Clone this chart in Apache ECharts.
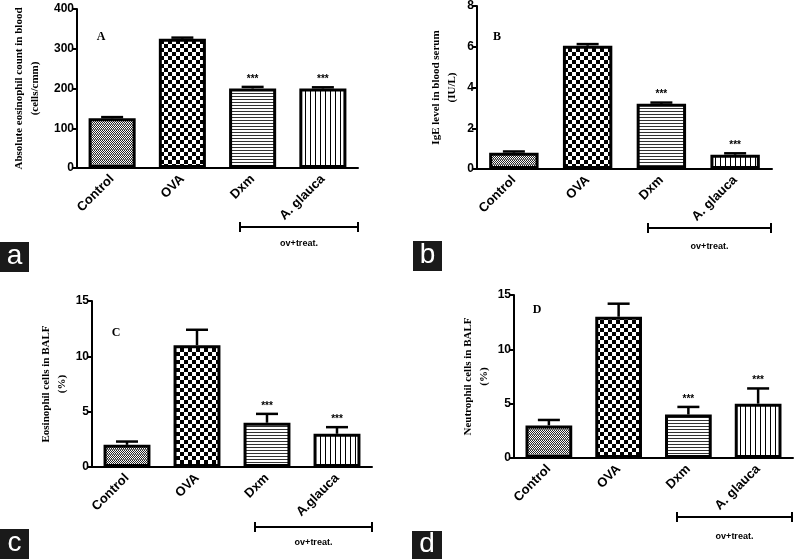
<!DOCTYPE html>
<html>
<head>
<meta charset="utf-8">
<script src="https://cdn.jsdelivr.net/npm/echarts@6/dist/echarts.min.js"></script>
<style>
html,body{margin:0;padding:0;background:#fff;}
#chart{width:795px;height:559px;}
</style>
</head>
<body>
<div id="chart"></div>
<script>
// ---- data ----
const categoriesAB = ['Control', 'OVA', 'Dxm', 'A. glauca'];
const categoriesC = ['Control', 'OVA', 'Dxm', 'A.glauca'];
const categoriesD = ['Control', 'OVA', 'Dxm', 'A. glauca'];
const valuesA = [125, 325, 200, 200];
const errorsA = [3, 3, 4, 3];
const valuesB = [0.8, 6.05, 3.2, 0.7];
const errorsB = [0.06, 0.08, 0.06, 0.07];
const valuesC = [2.0, 11.0, 4.0, 3.0];
const errorsC = [0.3, 1.4, 0.8, 0.6];
const valuesD = [3.0, 13.0, 4.0, 5.0];
const errorsD = [0.5, 1.2, 0.7, 1.4];
const significance = ['', '', '***', '***'];
const yTitleA = 'Absolute eosinophil count in blood\n(cells/cmm)';
const yTitleB = 'IgE level in blood serum\n(IU/L)';
const yTitleC = 'Eosinophil cells in BALF\n(%)';
const yTitleD = 'Neutrophil cells in BALF\n(%)';
const yMaxA = 400, yStepA = 100;
const yMaxB = 8, yStepB = 2;
const yMaxC = 15, yStepC = 5;
const yMaxD = 15, yStepD = 5;
const panelTitles = ['A', 'B', 'C', 'D'];
const panelTags = ['a', 'b', 'c', 'd'];
const bracketText = 'ov+treat.';

// ---- patterns ----
function makePattern(w, h, draw) {
  const c = document.createElement('canvas');
  c.width = w; c.height = h;
  const ctx = c.getContext('2d');
  ctx.fillStyle = '#fff'; ctx.fillRect(0, 0, w, h);
  ctx.fillStyle = '#000';
  draw(ctx);
  return { image: c, repeat: 'repeat' };
}
const patControl = makePattern(4, 5, ctx => {
  ctx.fillStyle = '#222';
  ctx.fillRect(0, 0, 1, 1); ctx.fillRect(2, 0, 1, 1);
  ctx.fillRect(1, 1, 1, 1); ctx.fillRect(3, 1, 1, 1);
  ctx.fillRect(0, 2, 1, 1); ctx.fillRect(2, 2, 1, 1);
  ctx.fillRect(1, 3, 1, 1); ctx.fillRect(3, 3, 1, 1);
  ctx.fillStyle = '#777';
  ctx.fillRect(0, 4, 4, 1);
});
const patOVA = makePattern(8, 8, ctx => {
  ctx.fillRect(0, 0, 4, 4); ctx.fillRect(4, 4, 4, 4);
});
const patDxm = makePattern(4, 3, ctx => {
  ctx.fillStyle = '#333';
  ctx.fillRect(0, 0, 4, 1);
});
const patGlauca = makePattern(5, 4, ctx => {
  ctx.fillRect(0, 0, 1, 4);
});
const patterns = [patControl, patOVA, patDxm, patGlauca];

// ---- layout ----
const grids = [
  { left: 77, top: 9, width: 281, height: 159 },
  { left: 477, top: 5, width: 295, height: 164 },
  { left: 92, top: 301, width: 280, height: 166 },
  { left: 514, top: 295, width: 279, height: 163 }
];
const panels = [
  { cats: categoriesAB, vals: valuesA, errs: errorsA, title: yTitleA, max: yMaxA, step: yStepA, gap: 34 },
  { cats: categoriesAB, vals: valuesB, errs: errorsB, title: yTitleB, max: yMaxB, step: yStepB, gap: 17 },
  { cats: categoriesC, vals: valuesC, errs: errorsC, title: yTitleC, max: yMaxC, step: yStepC, gap: 22 },
  { cats: categoriesD, vals: valuesD, errs: errorsD, title: yTitleD, max: yMaxD, step: yStepD, gap: 22 }
];

const xAxes = [], yAxes = [], series = [];
panels.forEach((p, i) => {
  xAxes.push({
    type: 'category', gridIndex: i, data: p.cats,
    axisLine: { lineStyle: { color: '#000', width: 2 } },
    axisTick: { alignWithLabel: true, length: 5, lineStyle: { color: '#000', width: 1.5 } },
    axisLabel: { rotate: 45, color: '#000', fontFamily: 'Arial, Liberation Sans', fontWeight: 'bold', fontSize: 13, margin: 9, interval: 0 }
  });
  yAxes.push({
    type: 'value', gridIndex: i, min: 0, max: p.max, interval: p.step,
    name: p.title, nameLocation: 'middle', nameRotate: 90, nameGap: p.gap,
    nameTextStyle: { fontFamily: 'Liberation Serif, Times New Roman, serif', fontWeight: 'bold', fontSize: 11, lineHeight: 16, color: '#000' },
    axisLine: { show: true, lineStyle: { color: '#000', width: 2 } },
    axisTick: { show: true, length: 5, lineStyle: { color: '#000', width: 2 } },
    axisLabel: { color: '#000', fontFamily: 'Arial, Liberation Sans', fontWeight: 'bold', fontSize: 12, margin: 3 },
    splitLine: { show: false }
  });
  series.push({
    type: 'bar', xAxisIndex: i, yAxisIndex: i, barWidth: '67%',
    data: p.vals.map((v, k) => ({ value: v, itemStyle: { color: patterns[k] } })),
    itemStyle: { borderColor: '#000', borderWidth: 3 },
    silent: true, animation: false
  });
  series.push({
    type: 'custom', xAxisIndex: i, yAxisIndex: i, z: 5,
    data: p.vals.map((v, k) => [k, v, p.errs[k]]),
    renderItem: function (params, api) {
      const k = api.value(0), v = api.value(1), e = api.value(2);
      const p0 = api.coord([k, v]);
      const p1 = api.coord([k, v + e]);
      const hw = 11;
      const children = [
        { type: 'line', shape: { x1: p0[0], y1: p0[1], x2: p1[0], y2: p1[1] }, style: { stroke: '#000', lineWidth: 2.5 } },
        { type: 'line', shape: { x1: p1[0] - hw, y1: p1[1], x2: p1[0] + hw, y2: p1[1] }, style: { stroke: '#000', lineWidth: 2.5 } }
      ];
      const s = significance[k];
      if (s) {
        children.push({ type: 'text', x: p1[0], y: p1[1] - 8, style: { text: s, fill: '#000', font: 'bold 10px Arial, Liberation Sans', align: 'center', verticalAlign: 'middle' } });
      }
      return { type: 'group', children: children };
    },
    silent: true, animation: false
  });
});

// ---- decorations (panel letters, brackets, tags) ----
const graphic = [];
const letterPos = [[101, 37], [497, 37], [116, 333], [537, 310]];
letterPos.forEach((pp, i) => {
  graphic.push({ type: 'text', x: pp[0], y: pp[1], style: { text: panelTitles[i], fill: '#000', font: 'bold 12px Liberation Serif, Times New Roman, serif', align: 'center', verticalAlign: 'middle' } });
});
const brackets = [
  { x1: 240, x2: 358, y: 227, ty: 244 },
  { x1: 648, x2: 771, y: 228, ty: 247 },
  { x1: 255, x2: 372, y: 527, ty: 543 },
  { x1: 677, x2: 792, y: 517, ty: 537 }
];
brackets.forEach(b => {
  graphic.push({ type: 'line', shape: { x1: b.x1, y1: b.y, x2: b.x2, y2: b.y }, style: { stroke: '#000', lineWidth: 2 } });
  graphic.push({ type: 'line', shape: { x1: b.x1, y1: b.y - 5, x2: b.x1, y2: b.y + 5 }, style: { stroke: '#000', lineWidth: 2 } });
  graphic.push({ type: 'line', shape: { x1: b.x2, y1: b.y - 5, x2: b.x2, y2: b.y + 5 }, style: { stroke: '#000', lineWidth: 2 } });
  graphic.push({ type: 'text', x: (b.x1 + b.x2) / 2, y: b.ty, style: { text: bracketText, fill: '#000', font: 'bold 9px Arial, Liberation Sans', align: 'center', verticalAlign: 'middle' } });
});
const tags = [
  { x: 0, y: 242, w: 29, h: 30 },
  { x: 413, y: 241, w: 29, h: 30 },
  { x: 0, y: 529, w: 29, h: 30 },
  { x: 412, y: 531, w: 30, h: 28 }
];
tags.forEach((t, i) => {
  graphic.push({ type: 'rect', shape: { x: t.x, y: t.y, width: t.w, height: t.h }, style: { fill: '#1a1a1a' } });
  graphic.push({ type: 'text', x: t.x + t.w / 2, y: t.y + t.h / 2 - 1, style: { text: panelTags[i], fill: '#fff', font: '28px Arial, Liberation Sans', align: 'center', verticalAlign: 'middle' } });
});

const chart = echarts.init(document.getElementById('chart'), null, { renderer: 'canvas' });
chart.setOption({
  animation: false,
  backgroundColor: '#fff',
  grid: grids,
  xAxis: xAxes,
  yAxis: yAxes,
  series: series,
  graphic: graphic
});
</script>
</body>
</html>
